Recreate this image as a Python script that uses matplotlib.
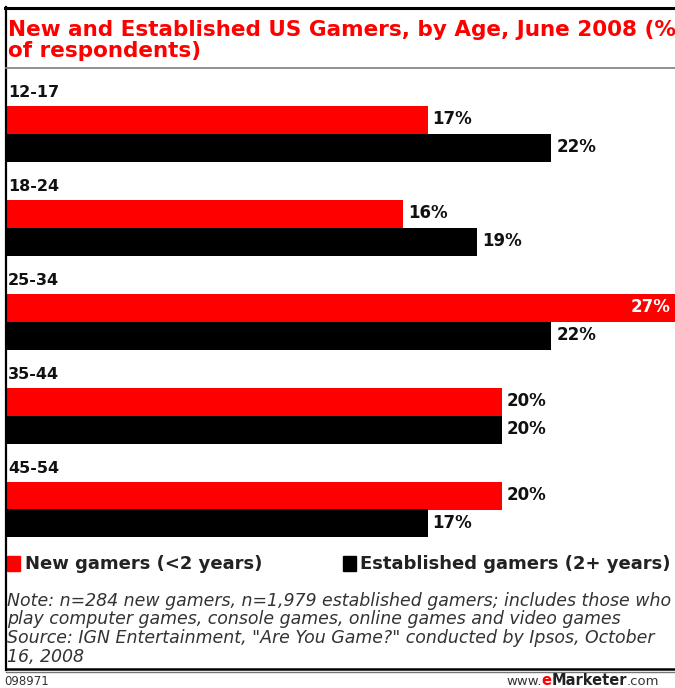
import matplotlib.pyplot as plt
from matplotlib.lines import Line2D

# data
ages = ['12-17', '18-24', '25-34', '35-44', '45-54']
new_gamers = [17, 16, 27, 20, 20]
established = [22, 19, 22, 20, 17]

RED = '#ff0000'
W, H = 675, 688

fig = plt.figure(figsize=(W / 100, H / 100), dpi=100)
fig.patch.set_facecolor('white')

def fx(px):
    return px / W

def fy(py):
    return 1 - py / H

# bar area: pixel rows 80..545, group centres at 133 + 94*i
top_px, bot_px = 80, 545
ax = fig.add_axes([fx(7), fy(bot_px), 1 - fx(7), (bot_px - top_px) / H])
ax.set_xlim(0, 27)
ax.set_ylim((bot_px - 133.5) / 94, (top_px - 133.5) / 94)
ax.axis('off')

bh = 28 / 94
pos = list(range(len(ages)))
ax.barh([p - bh / 2 for p in pos], new_gamers, height=bh, color=RED)
ax.barh([p + bh / 2 for p in pos], established, height=bh, color='black')

for i, age in enumerate(ages):
    ax.text(0.05, i - 0.44, age, fontsize=11.5, fontweight='bold', va='center',
            ha='left', color='#111111')
    v = new_gamers[i]
    if v >= 27:
        ax.text(v - 0.2, i - bh / 2, f'{v}%', color='white', fontsize=12,
                fontweight='bold', va='center', ha='right')
    else:
        ax.text(v + 0.2, i - bh / 2, f'{v}%', fontsize=12, fontweight='bold',
                va='center', ha='left', color='#111111')
    v = established[i]
    ax.text(v + 0.2, i + bh / 2, f'{v}%', fontsize=12, fontweight='bold',
            va='center', ha='left', color='#111111')

# title
fig.text(fx(8), fy(30), 'New and Established US Gamers, by Age, June 2008 (%',
         color=RED, fontsize=15.5, fontweight='bold', va='center', ha='left')
fig.text(fx(8), fy(51), 'of respondents)',
         color=RED, fontsize=15.5, fontweight='bold', va='center', ha='left')

# frame lines
fig.add_artist(Line2D([fx(5), 1], [fy(7.5), fy(7.5)], color='black', lw=2.2))
fig.add_artist(Line2D([fx(6), fx(6)], [fy(7), fy(670)], color='black', lw=1.6))
fig.add_artist(Line2D([fx(6), 1], [fy(68), fy(68)], color='#888888', lw=1.3))
fig.add_artist(Line2D([fx(6), 1], [fy(668.5), fy(668.5)], color='black', lw=1.8))
fig.add_artist(Line2D([fx(6), 1], [fy(672), fy(672)], color='#777777', lw=1.0))

# legend
fig.patches.append(plt.Rectangle((fx(7), fy(571)), fx(13), 15 / H, color=RED,
                                 transform=fig.transFigure, figure=fig))
fig.text(fx(25), fy(564), 'New gamers (<2 years)', fontsize=13, fontweight='bold',
         va='center', ha='left', color='#222222')
fig.patches.append(plt.Rectangle((fx(343), fy(571)), fx(13), 15 / H, color='black',
                                 transform=fig.transFigure, figure=fig))
fig.text(fx(360), fy(564), 'Established gamers (2+ years)', fontsize=13,
         fontweight='bold', va='center', ha='left', color='#222222')

# notes
notes = [
    'Note: n=284 new gamers, n=1,979 established gamers; includes those who',
    'play computer games, console games, online games and video games',
    'Source: IGN Entertainment, "Are You Game?" conducted by Ipsos, October',
    '16, 2008',
]
for k, line in enumerate(notes):
    fig.text(fx(7), fy(601 + 18.5 * k), line, fontsize=12.5, style='italic',
             color='#333333', va='center', ha='left')

# footer
fy_foot = fy(685)
fig.text(fx(4), fy_foot, '098971', fontsize=8.5, color='#333333', va='baseline', ha='left')
foot = fig.text(fx(506), fy_foot, 'www.', fontsize=9.5, color='#333333',
                va='baseline', ha='left')
fig.canvas.draw()
bb = foot.get_window_extent()
e = fig.text(bb.x1 / W, fy_foot, 'e', fontsize=10.5, color=RED, fontweight='bold',
             va='baseline', ha='left')
bb = e.get_window_extent()
m = fig.text(bb.x1 / W, fy_foot, 'Marketer', fontsize=10.5, color='#222222',
             fontweight='bold', va='baseline', ha='left')
bb = m.get_window_extent()
fig.text(bb.x1 / W, fy_foot, '.com', fontsize=9.5, color='#333333', va='baseline', ha='left')

fig.savefig('out.png', dpi=100)
